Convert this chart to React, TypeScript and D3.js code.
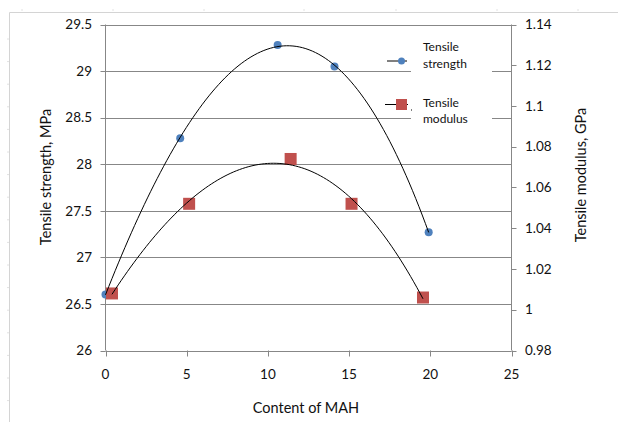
import React from "react";
import * as d3 from "d3";

// data
const contentStrength = [0, 4.6, 10.6, 14.1, 19.9];
const tensileStrength = [26.6, 28.28, 29.28, 29.05, 27.27];
const contentModulus = [0.4, 5.15, 11.4, 15.15, 19.55];
const tensileModulus = [1.008, 1.052, 1.074, 1.052, 1.006];

const xTicks = [0, 5, 10, 15, 20, 25];
const leftTicks = [26, 26.5, 27, 27.5, 28, 28.5, 29, 29.5];
const rightTicks = [0.98, 1, 1.02, 1.04, 1.06, 1.08, 1.1, 1.12, 1.14];

const W = 618, H = 422;
const FONT = "Lato, 'Open Sans', sans-serif";

// least squares polynomial (like an Excel poly trendline)
function polyfit(xs: number[], ys: number[], deg: number) {
  const n = deg + 1;
  const A: number[][] = [];
  for (let i = 0; i < n; i++) {
    A.push([]);
    for (let j = 0; j < n; j++) A[i].push(d3.sum(xs, x => Math.pow(x, i + j)));
    A[i].push(d3.sum(xs, (x, k) => Math.pow(x, i) * ys[k]));
  }
  for (let c = 0; c < n; c++) {
    let p = c;
    for (let r = c + 1; r < n; r++) if (Math.abs(A[r][c]) > Math.abs(A[p][c])) p = r;
    [A[c], A[p]] = [A[p], A[c]];
    for (let r = 0; r < n; r++) {
      if (r === c) continue;
      const f = A[r][c] / A[c][c];
      for (let k = c; k <= n; k++) A[r][k] -= f * A[c][k];
    }
  }
  const coef = A.map((row, i) => row[n] / row[i]);
  return (x: number) => coef.reduce((s, c, i) => s + c * Math.pow(x, i), 0);
}

function trend(xs: number[], ys: number[], deg: number) {
  const f = polyfit(xs, ys, deg);
  const [a, b] = d3.extent(xs) as [number, number];
  return d3.range(0, 101).map(i => {
    const x = a + ((b - a) * i) / 100;
    return [x, f(x)] as [number, number];
  });
}

export default function App() {
  const x = d3.scaleLinear().domain([0, 25]).range([105.5, 511.5]);
  const yL = d3.scaleLinear().domain([26, 29.5]).range([350.5, 24.5]);
  const yR = d3.scaleLinear().domain([0.98, 1.14]).range([350.5, 24.5]);

  const lineL = d3.line<[number, number]>().x(d => x(d[0])).y(d => yL(d[1]));
  const lineR = d3.line<[number, number]>().x(d => x(d[0])).y(d => yR(d[1]));

  const strengthFit = trend(contentStrength, tensileStrength, 3);
  const modulusFit = trend(contentModulus, tensileModulus, 3);

  const grid = "#878787";
  const blue = "#4f81bd";
  const red = "#c0504d";
  const ink = "#111";

  return (
    <svg width={W} height={H} style={{ position: "absolute", left: 0, top: 0, background: "#fff" }}
      fontFamily={FONT}>
      {/* chart area border with faint ruler marks */}
      <path d={`M9.5,${H}V12.5H${W}`} fill="none" stroke="#d4d4d4" />
      {[22, 113, 204, 304, 396, 497, 578].map(t => (
        <line key={"rt" + t} x1={t} x2={t} y1={9} y2={11} stroke="#e2e2e2" />
      ))}
      {d3.range(39, H, 22.6).map(t => (
        <line key={"rl" + t} x1={7} x2={9} y1={t} y2={t} stroke="#e2e2e2" />
      ))}

      {/* gridlines */}
      {leftTicks.map(t => (
        <line key={"g" + t} x1={x(0)} x2={x(25)} y1={Math.round(yL(t)) + 0.5} y2={Math.round(yL(t)) + 0.5}
          stroke={grid} />
      ))}

      {/* axes */}
      <line x1={x(0)} x2={x(0)} y1={yL(29.5)} y2={yL(26)} stroke={grid} />
      <line x1={x(25)} x2={x(25)} y1={yR(1.14)} y2={yR(0.98)} stroke={grid} />
      {leftTicks.map(t => (
        <g key={"l" + t}>
          <line x1={x(0) - 5} x2={x(0)} y1={Math.round(yL(t)) + 0.5} y2={Math.round(yL(t)) + 0.5} stroke={grid} />
          <text x={92} y={yL(t)} dy="0.35em" textAnchor="end" fontSize={13.5} fill={ink}>{t}</text>
        </g>
      ))}
      {rightTicks.map(t => (
        <g key={"r" + t}>
          <line x1={x(25)} x2={x(25) + 5} y1={Math.round(yR(t)) + 0.5} y2={Math.round(yR(t)) + 0.5} stroke={grid} />
          <text x={525} y={yR(t)} dy="0.35em" textAnchor="start" fontSize={13.5} fill={ink}>{t}</text>
        </g>
      ))}
      {xTicks.map(t => (
        <g key={"x" + t}>
          <line x1={Math.round(x(t)) + 0.5} x2={Math.round(x(t)) + 0.5} y1={yL(26)} y2={yL(26) + 6} stroke={grid} />
          <text x={x(t)} y={379} textAnchor="middle" fontSize={13.5} fill={ink}>{t}</text>
        </g>
      ))}

      {/* axis titles */}
      <text transform="translate(51,177) rotate(-90)" textAnchor="middle" fontSize={14.5} fill={ink}>
        Tensile strength, MPa
      </text>
      <text transform="translate(586,175) rotate(-90)" textAnchor="middle" fontSize={14.5} fill={ink}>
        Tensile modulus, GPa
      </text>
      <text x={306} y={413} textAnchor="middle" fontSize={14.5} fill={ink}>Content of MAH</text>

      {/* markers */}
      {contentStrength.map((c, i) => (
        <circle key={"s" + i} cx={x(c)} cy={yL(tensileStrength[i])} r={4} fill={blue} />
      ))}
      {contentModulus.map((c, i) => (
        <rect key={"m" + i} x={x(c) - 6} y={yR(tensileModulus[i]) - 6} width={12} height={12} fill={red} />
      ))}

      {/* trendlines */}
      <path d={lineL(strengthFit) || ""} fill="none" stroke="#000" strokeWidth={1} />
      <path d={lineR(modulusFit) || ""} fill="none" stroke="#000" strokeWidth={1} />

      {/* legend */}
      <rect x={411} y={36} width={81} height={96} fill="#fff" />
      <line x1={387} x2={407} y1={61} y2={61} stroke="#000" />
      <circle cx={401.5} cy={61} r={3.5} fill={blue} />
      <text x={423} y={51} fontSize={12} fill={ink}>Tensile</text>
      <text x={423} y={67.5} fontSize={12} fill={ink}>strength</text>
      <line x1={385} x2={408} y1={104.5} y2={104.5} stroke="#000" />
      <rect x={396} y={99} width={11} height={11} fill={red} />
      <rect x={411} y={109.5} width={1} height={1} fill="#000" />
      <text x={423} y={107} fontSize={12} fill={ink}>Tensile</text>
      <text x={423} y={123} fontSize={12} fill={ink}>modulus</text>
    </svg>
  );
}
